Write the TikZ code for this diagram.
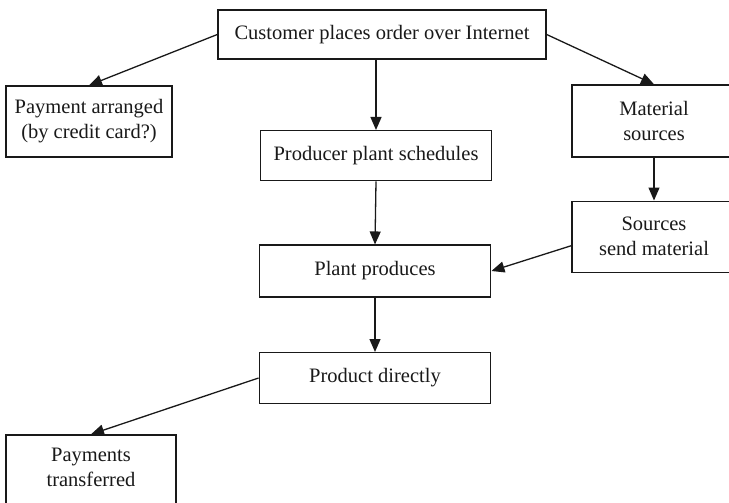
\documentclass[tikz,border=0pt]{standalone}
\usepackage{fontspec}
\setmainfont{Liberation Serif}
\usetikzlibrary{arrows.meta}
\begin{document}
\begin{tikzpicture}[x=1pt,y=-1pt,
  box/.style={draw=black!90,line width=1.4pt,inner sep=0pt,align=center,
    font=\fontsize{20.5}{25}\selectfont,text=black!90},
  lbl/.style={inner sep=0pt,align=center,font=\fontsize{20.5}{25}\selectfont,text=black!90},
  conn/.style={draw=black!90,line width=1.3pt,-{Triangle[length=13pt,width=11pt]}}]
\useasboundingbox (0,0) rectangle (729,503);
\node[box,minimum width=328pt,minimum height=49pt] (top) at (382,34.5) {Customer places order over Internet};
\node[box,minimum width=166pt,minimum height=71pt] (pay) at (89,121.5) {Payment arranged\\(by credit card?)};
\node[box,minimum width=231pt,minimum height=50pt] (sched) at (376,155.7) {Producer plant schedules};
\node[box,minimum width=164pt,minimum height=72pt] (mat) at (654,121) {Material\\sources};
\node[box,minimum width=164pt,minimum height=71pt] (src) at (654,236.7) {Sources\\send material};
\node[box,minimum width=231.5pt,minimum height=51.7pt] (plant) at (375,271) {Plant produces};
\node[box,minimum width=231.5pt,minimum height=50.6pt] (prod) at (375,378) {Product directly};
\node[box,minimum width=170pt,minimum height=80pt] (paid) at (91,475) {};
\node[lbl] (paidtxt) at (91,467) {Payments\\transferred};
\draw[conn] (top.west) -- (pay.north);
\draw[conn] (top.east) -- (mat.north);
\draw[conn] (top.south -| sched.north) -- (sched.north);
\draw[conn] (sched.south) -- (plant.north);
\draw[conn] (mat.south) -- (src.north);
\draw[conn] ([yshift=-9pt]src.west) -- (plant.east);
\draw[conn] (plant.south) -- (prod.north);
\draw[conn] (prod.west) -- (paid.north);
\end{tikzpicture}
\end{document}
